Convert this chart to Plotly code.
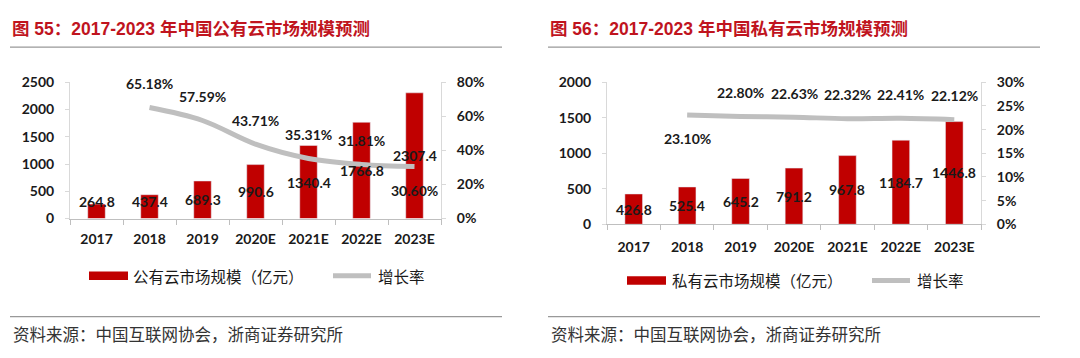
import plotly.graph_objects as go
import numpy as np

years = ["2017", "2018", "2019", "2020E", "2021E", "2022E", "2023E"]
public_size = [264.8, 437.4, 689.3, 990.6, 1340.4, 1766.8, 2307.4]
public_growth = [None, 0.6518, 0.5759, 0.4371, 0.3531, 0.3181, 0.3060]
private_size = [426.8, 525.4, 645.2, 791.2, 967.8, 1184.7, 1446.8]
private_growth = [None, 0.2310, 0.2280, 0.2263, 0.2232, 0.2241, 0.2212]

title_left = "图 55：2017-2023 年中国公有云市场规模预测"
title_right = "图 56：2017-2023 年中国私有云市场规模预测"
legend_bar_left = "公有云市场规模（亿元）"
legend_bar_right = "私有云市场规模（亿元）"
legend_line = "增长率"
source = "资料来源：中国互联网协会，浙商证券研究所"

# label placement (above = +1 / below = -1) for growth labels
left_growth_side = [0, 1, 1, 1, 1, 1, -1]
right_growth_side = [0, -1, 1, 1, 1, 1, 1]

RED = "#C00000"
GRAY = "#BFBFBF"
TITLE_RED = "#C0141E"
W, H = 1080, 358

def px(v):
    return v / W

def py(v):
    return 1 - v / H

NUM_FONT = dict(family="Lato, 'Liberation Sans', sans-serif", size=14, color="#1a1a1a", weight="bold")
CJK = "'Noto Sans CJK SC', 'Liberation Sans', sans-serif"

fig = go.Figure()

fig.add_trace(go.Bar(x=years, y=public_size, marker_color=RED, width=0.33,
                     xaxis="x", yaxis="y", showlegend=False))
fig.add_trace(go.Scatter(x=years, y=public_growth, mode="lines",
                         line=dict(color=GRAY, width=5, shape="spline", smoothing=1.0),
                         xaxis="x", yaxis="y2", showlegend=False))
fig.add_trace(go.Bar(x=years, y=private_size, marker_color=RED, width=0.33,
                     xaxis="x3", yaxis="y3", showlegend=False))
fig.add_trace(go.Scatter(x=years, y=private_growth, mode="lines",
                         line=dict(color=GRAY, width=5, shape="spline", smoothing=1.0),
                         xaxis="x3", yaxis="y4", showlegend=False))

annotations = []
# bar value labels (centred in the bar, kept above a minimum height)
for sizes, floor, xr, yr in [(public_size, 315, "x", "y"), (private_size, 0, "x3", "y3")]:
    for i, v in enumerate(sizes):
        annotations.append(dict(x=i, y=max(v / 2, floor), xref=xr, yref=yr, text=f"{v:.1f}",
                                showarrow=False, font=NUM_FONT))
# growth labels
for g, side, xr, yr in [(public_growth, left_growth_side, "x", "y2"),
                        (private_growth, right_growth_side, "x3", "y4")]:
    for i, (gv, s) in enumerate(zip(g, side)):
        if gv is None:
            continue
        annotations.append(dict(x=i, y=gv, xref=xr, yref=yr, text=f"{gv*100:.2f}%",
                                showarrow=False, yshift=24 * s, font=NUM_FONT))

# titles, legends, source
for x0, title in [(10, title_left), (548, title_right)]:
    annotations.append(dict(x=px(x0), y=py(21), xref="paper", yref="paper", text=f"<b>{title}</b>",
                            showarrow=False, xanchor="left", yanchor="middle",
                            font=dict(family="'Liberation Sans', " + CJK, size=17.5, color=TITLE_RED)))
    annotations.append(dict(x=px(x0 + 1), y=py(341), xref="paper", yref="paper", text=source,
                            showarrow=False, xanchor="left", yanchor="middle",
                            font=dict(family=CJK, size=16.5, color="#333333")))

leg = [(89, 280, 131, 331, 376, legend_bar_left), (627, 285, 670, 870, 915, legend_bar_right)]
shapes = []
for rx, cy, tx, lx, ltx, lab in leg:
    shapes.append(dict(type="rect", xref="paper", yref="paper", x0=px(rx), x1=px(rx + 39),
                       y0=py(cy - 4.5), y1=py(cy + 4.5), fillcolor=RED, line=dict(width=0)))
    shapes.append(dict(type="line", xref="paper", yref="paper", x0=px(lx + 2), x1=px(lx + 40),
                       y0=py(cy), y1=py(cy), line=dict(color=GRAY, width=5)))
    annotations.append(dict(x=px(tx), y=py(cy), xref="paper", yref="paper", text=lab,
                            showarrow=False, xanchor="left", yanchor="middle",
                            font=dict(family=CJK, size=15.5, color="#1a1a1a")))
    annotations.append(dict(x=px(ltx), y=py(cy), xref="paper", yref="paper", text=legend_line,
                            showarrow=False, xanchor="left", yanchor="middle",
                            font=dict(family=CJK, size=15.5, color="#1a1a1a")))

for x0, x1 in [(10, 502), (548, 1040)]:
    for yy in [40, 323]:
        shapes.append(dict(type="line", xref="paper", yref="paper", x0=px(x0), x1=px(x1),
                           y0=py(yy), y1=py(yy), line=dict(color="#999999", width=1.2)))

AX_NUM = dict(family="Lato, 'Liberation Sans', sans-serif", size=14, color="#1a1a1a", weight="bold")

def xaxis(domain, anchor, standoff):
    return dict(domain=domain, anchor=anchor, type="category", categoryorder="array",
                categoryarray=years, range=[-0.5, 6.5], showline=True, linecolor="#BFBFBF",
                linewidth=1, ticks="outside", ticklen=5, tickcolor="#BFBFBF", tickson="boundaries",
                tickfont=AX_NUM, ticklabelstandoff=standoff, showgrid=False, zeroline=False,
                fixedrange=True)

def yaxis(domain, anchor, rng, dtick, side="left", overlay=None, fmt=None):
    d = dict(domain=domain, anchor=anchor, range=rng, dtick=dtick, showline=True,
             linecolor="#D9D9D9", linewidth=1, ticks="outside", ticklen=4, tickcolor="#D9D9D9",
             tickfont=AX_NUM, showgrid=False, zeroline=False, side=side, ticklabelstandoff=8,
             fixedrange=True)
    if overlay:
        d["overlaying"] = overlay
    if fmt:
        d["tickformat"] = fmt
    return d

fig.update_layout(
    width=W, height=H, margin=dict(l=0, r=0, t=0, b=0),
    paper_bgcolor="white", plot_bgcolor="white",
    xaxis=xaxis([px(70), px(441)], "y", 8),
    yaxis=yaxis([py(220), py(77)], "x", [0, 2500], 500),
    yaxis2=yaxis([py(220), py(77)], "x", [0, 0.8], 0.2, side="right", overlay="y", fmt=".0%"),
    xaxis3=xaxis([px(607), px(981)], "y3", 10),
    yaxis3=yaxis([py(226), py(77)], "x3", [0, 2000], 500),
    yaxis4=yaxis([py(226), py(77)], "x3", [0, 0.3], 0.05, side="right", overlay="y3", fmt=".0%"),
    annotations=annotations, shapes=shapes, showlegend=False,
)

fig.write_html("out.html", config={"displayModeBar": False},
               post_script="document.body.style.margin='0';")
